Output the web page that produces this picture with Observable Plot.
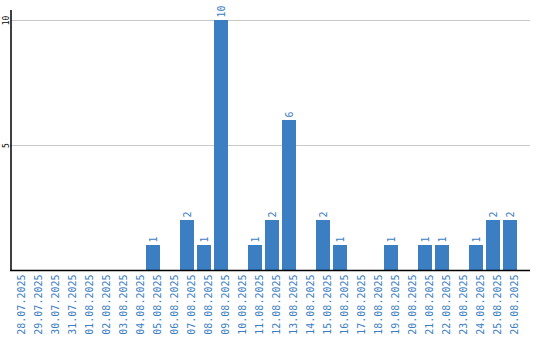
<!DOCTYPE html>
<html><head><meta charset="utf-8">
<script src="https://cdn.jsdelivr.net/npm/d3@7"></script>
<script src="https://cdn.jsdelivr.net/npm/@observablehq/plot@0.6"></script>
<style>body{margin:0;background:#fff}</style>
</head><body><div id="chart"></div>
<script>
const dates = ["28.07.2025","29.07.2025","30.07.2025","31.07.2025","01.08.2025","02.08.2025","03.08.2025","04.08.2025","05.08.2025","06.08.2025","07.08.2025","08.08.2025","09.08.2025","10.08.2025","11.08.2025","12.08.2025","13.08.2025","14.08.2025","15.08.2025","16.08.2025","17.08.2025","18.08.2025","19.08.2025","20.08.2025","21.08.2025","22.08.2025","23.08.2025","24.08.2025","25.08.2025","26.08.2025"];
const counts = [0,0,0,0,0,0,0,0,1,0,2,1,10,0,1,2,6,0,2,1,0,0,1,0,1,1,0,1,2,2];
const yTicks = [5, 10];

const data = dates.map((d, i) => ({date: d, value: counts[i]}));
const blue = "#3b7ec2";
const mono = "DejaVu Sans Mono, monospace";

const chart = Plot.plot({
  width: 540, height: 340,
  marginLeft: 10, marginRight: 10, marginTop: 10, marginBottom: 70,
  style: {fontFamily: mono, background: "#fff"},
  x: {type: "band", domain: dates, range: [10, 517], paddingInner: 0.1765, paddingOuter: 0, axis: null},
  y: {domain: [0, 10.4], axis: null},
  marks: [
    Plot.gridY(yTicks, {stroke: "#c8c8c8", strokeOpacity: 1, strokeWidth: 1}),
    Plot.barY(data, {x: "date", y: "value", fill: blue}),
    Plot.text(data.filter(d => d.value > 0), {x: "date", y: "value", text: d => String(d.value), rotate: -90, textAnchor: "start", dy: -3, fill: blue, fontSize: 10, fontFamily: mono}),
    Plot.axisX({tickSize: 0, rotate: -90, textAnchor: "end", tickPadding: 4, fill: blue, fontSize: 10, fontFamily: mono, label: null}),
    Plot.text(yTicks, {x: () => dates[0], y: d => d, text: d => String(d), rotate: -90, dx: -11, fill: "#000", fontSize: 8, fontFamily: mono, textAnchor: "middle"}),
    Plot.ruleY([0], {stroke: "#000", strokeWidth: 1.5}),
    Plot.ruleX([0], {x: () => dates[0], y1: 0, y2: 10.4, dx: -6.5, stroke: "#000", strokeWidth: 1.5})
  ]
});
document.getElementById("chart").append(chart);
</script></body></html>
